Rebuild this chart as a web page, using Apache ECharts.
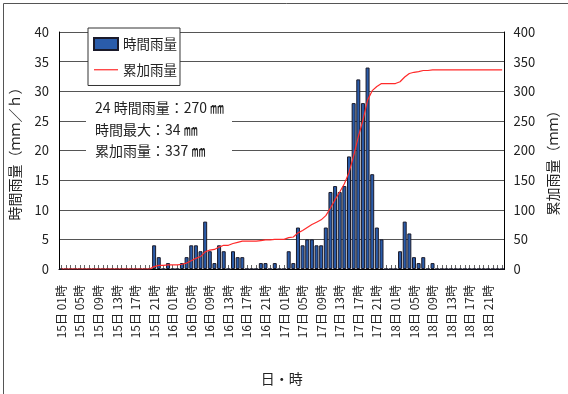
<!DOCTYPE html>
<html><head><meta charset="utf-8">
<script src="https://cdn.jsdelivr.net/npm/echarts@6/dist/echarts.min.js"></script>
<style>html,body{margin:0;padding:0;background:#fff}#c{width:568px;height:394px}</style>
</head><body><div id="c"></div>
<script>
// ---- data ----
const days = ['15', '16', '17', '18'];
const hours = ['01','02','03','04','05','06','07','08','09','10','11','12',
               '13','14','15','16','17','18','19','20','21','22','23','24'];
// hourly rainfall (mm/h), 15日01時 .. 18日24時
const hourlyDay15 = [0,0,0,0,0,0,0,0,0,0,0,0, 0,0,0,0,0,0,0,0,4,2,0,1];
const hourlyDay16 = [0,0,1,2,4,4,3,8,3,1,4,3, 0,3,2,2,0,0,0,1,1,0,1,0];
const hourlyDay17 = [0,3,1,7,4,5,5,4,4,7,13,14, 13,14,19,28,32,28,34,16,7,5,0,0];
const hourlyDay18 = [0,3,8,6,2,1,2,0,1,0,0,0, 0,0,0,0,0,0,0,0,0,0,0,0];
const legendNames = ['時間雨量', '累加雨量'];
const leftTicks = { min: 0, max: 40, interval: 5 };
const rightTicks = { min: 0, max: 400, interval: 50 };
const annotationLines = ['24 時間雨量：270 ㎜', '時間最大：34 ㎜', '累加雨量：337 ㎜'];

// ---- derived ----
const categories = [];
days.forEach(d => hours.forEach(h => categories.push(d + '日 ' + h + '時')));
const hourly = [].concat(hourlyDay15, hourlyDay16, hourlyDay17, hourlyDay18);
const cumulative = [];
let run = 0;
hourly.forEach(v => { run += v; cumulative.push(run); });

const FONT = "'Liberation Sans Narrow','Noto Sans CJK JP',sans-serif";
const CJK = "'Noto Sans CJK JP','Liberation Sans Narrow',sans-serif";

const chart = echarts.init(document.getElementById('c'), null, { renderer: 'canvas' });
chart.setOption({
  animation: false,
  backgroundColor: '#fff',
  grid: { left: 57.6, right: 56.8, top: 32, bottom: 125, containLabel: false },
  legend: {
    orient: 'vertical', left: 88, top: 28,
    backgroundColor: '#fff', borderColor: '#333', borderWidth: 1,
    padding: [9, 3, 9, 5], itemGap: 12, itemWidth: 24, itemHeight: 12,
    textStyle: { fontSize: 13.5, color: '#222', fontFamily: CJK },
    data: [
      { name: legendNames[0], icon: 'rect' },
      { name: legendNames[1], icon: 'path://M0,0H24V1.2H0Z' }
    ]
  },
  xAxis: {
    type: 'category', data: categories, boundaryGap: true,
    axisLine: { lineStyle: { color: '#000', width: 1 } },
    axisTick: { show: true, inside: true, length: 4, interval: 0, alignWithLabel: true, lineStyle: { color: '#666' } },
    axisLabel: { interval: 3, rotate: 90, margin: 16, fontSize: 12, color: '#222', fontFamily: FONT },
    name: '日・時', nameLocation: 'middle', nameGap: 103,
    nameTextStyle: { fontSize: 14, color: '#222', fontFamily: CJK }
  },
  yAxis: [{
    type: 'value', min: leftTicks.min, max: leftTicks.max, interval: leftTicks.interval,
    axisLine: { show: true, lineStyle: { color: '#000' } },
    axisTick: { show: false },
    axisLabel: { fontSize: 13, margin: 10, color: '#222', fontFamily: FONT },
    splitLine: { show: true, lineStyle: { color: '#555', width: 1 } },
    name: '時間雨量（ｍｍ／ｈ）', nameLocation: 'middle', nameRotate: 90, nameGap: 37,
    nameTextStyle: { fontSize: 14, color: '#222', fontFamily: CJK }
  }, {
    type: 'value', position: 'right', min: rightTicks.min, max: rightTicks.max, interval: rightTicks.interval,
    axisLine: { show: true, lineStyle: { color: '#000' } },
    axisTick: { show: false },
    axisLabel: { fontSize: 13, margin: 9, color: '#222', fontFamily: FONT },
    splitLine: { show: false },
    name: '累加雨量（ｍｍ）', nameLocation: 'middle', nameRotate: 90, nameGap: 41,
    nameTextStyle: { fontSize: 14, color: '#222', fontFamily: CJK, padding: [0, 18, 0, 0] }
  }],
  series: [{
    name: legendNames[0], type: 'bar', yAxisIndex: 0, data: hourly,
    barWidth: 4,
    itemStyle: { color: '#2a5caa', borderColor: '#1a1a2a', borderWidth: 1 }
  }, {
    name: legendNames[1], type: 'line', yAxisIndex: 1, data: cumulative,
    symbol: 'none', z: 5,
    lineStyle: { color: '#ff2a2a', width: 1.2 },
    itemStyle: { color: '#ff2a2a' }
  }],
  graphic: [
    { type: 'rect', z: 100, shape: { x: 3.5, y: 3.5, width: 700, height: 600 },
      style: { fill: 'none', stroke: '#555', lineWidth: 1 } },
    { type: 'rect', z: 100, shape: { x: 86, y: 95, width: 146, height: 66 }, style: { fill: '#fff' } },
    { type: 'text', z: 101, left: 95, top: 97,
      style: { text: annotationLines.join('\n'), fontSize: 14, lineHeight: 21.5, fill: '#222', fontFamily: FONT } }
  ]
});
</script></body></html>
